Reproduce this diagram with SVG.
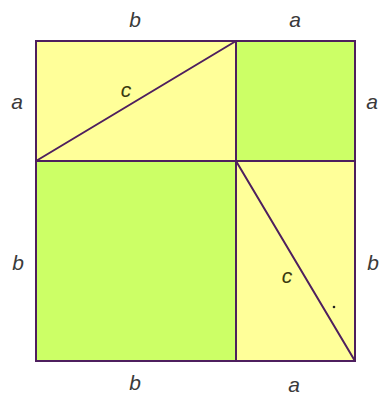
<svg xmlns="http://www.w3.org/2000/svg" width="385" height="403" viewBox="0 0 385 403">
<style>
.y{fill:#ffff99}
.g{fill:#ccff66}
.ln{stroke:#4e1f5e;stroke-width:2;fill:none;stroke-linecap:round}
.t{font-family:"Liberation Sans",Arial,sans-serif;font-style:italic;font-size:21px;fill:#3a3a3a;text-anchor:middle}
.c{fill:#3a3a10}
</style>
<rect width="385" height="403" fill="#ffffff"/>
<g id="tl"><rect class="y" x="36" y="41" width="200" height="120"/></g>
<g id="tr"><rect class="g" x="236" y="41" width="119" height="120"/></g>
<g id="bl"><rect class="g" x="36" y="161" width="200" height="200"/></g>
<g id="br"><rect class="y" x="236" y="161" width="119" height="200"/></g>
<g id="connectors">
<rect class="ln" x="36" y="41" width="319" height="320"/>
<line class="ln" x1="236" y1="41" x2="236" y2="361"/>
<line class="ln" x1="36" y1="161" x2="355" y2="161"/>
<line class="ln" x1="36" y1="161" x2="236" y2="41"/>
<line class="ln" x1="236" y1="161" x2="355" y2="361"/>
</g>
<circle cx="334" cy="307" r="1.3" fill="#222"/>
<g id="labels">
<text class="t" x="135" y="27">b</text>
<text class="t" x="295" y="27">a</text>
<text class="t" x="17" y="109">a</text>
<text class="t" x="372" y="109">a</text>
<text class="t" x="18" y="270">b</text>
<text class="t" x="373" y="270">b</text>
<text class="t" x="135" y="390">b</text>
<text class="t" x="294" y="392">a</text>
<text class="t c" x="126" y="97">c</text>
<text class="t c" x="287" y="283">c</text>
</g>
</svg>
